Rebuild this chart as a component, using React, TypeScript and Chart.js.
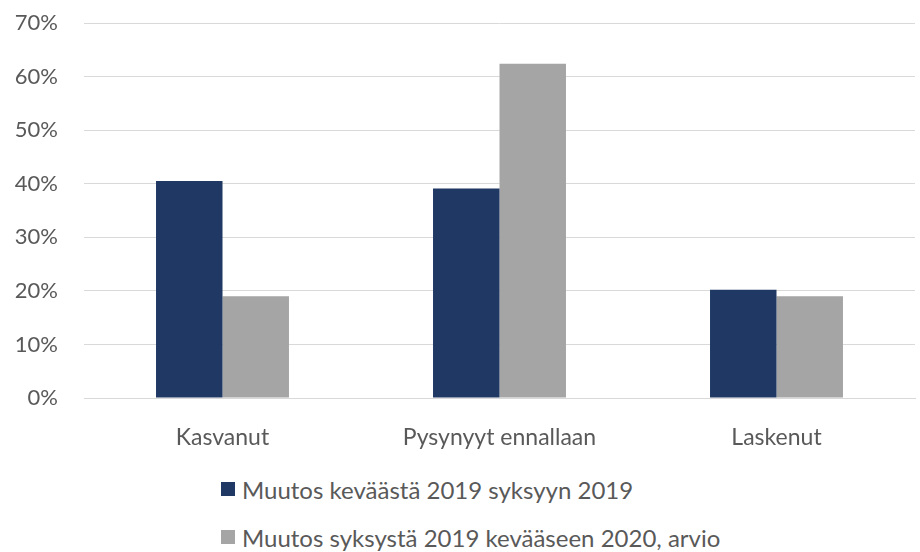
import React, { useEffect, useRef } from "react";
import { Chart, registerables } from "chart.js";

Chart.register(...registerables);

const categories = ["Kasvanut", "Pysynyyt ennallaan", "Laskenut"];
const seriesNames = [
  "Muutos keväästä 2019 syksyyn 2019",
  "Muutos syksystä 2019 kevääseen 2020, arvio",
];
const spring2019ToAutumn2019 = [40.5, 39.1, 20.2];
const autumn2019ToSpring2020 = [19.0, 62.4, 19.0];
const yTicks = [0, 10, 20, 30, 40, 50, 60, 70];
const colors = ["#1F3864", "#A5A5A5"];

const FONT = "Lato, 'Open Sans', sans-serif";
const TEXT = "#595959";

export default function App() {
  const ref = useRef<HTMLCanvasElement | null>(null);

  useEffect(() => {
    if (!ref.current) return;
    const chart = new Chart(ref.current, {
      type: "bar",
      data: {
        labels: categories,
        datasets: [
          {
            label: seriesNames[0],
            data: spring2019ToAutumn2019,
            backgroundColor: colors[0],
            categoryPercentage: 0.48,
            barPercentage: 1,
          },
          {
            label: seriesNames[1],
            data: autumn2019ToSpring2020,
            backgroundColor: colors[1],
            categoryPercentage: 0.48,
            barPercentage: 1,
          },
        ],
      },
      options: {
        animation: false,
        responsive: false,
        maintainAspectRatio: false,
        layout: { padding: { top: 23, right: 5, left: 0, bottom: 0 } },
        plugins: {
          legend: { display: false },
          tooltip: { enabled: false },
        },
        scales: {
          x: {
            grid: { display: false },
            border: { color: "#D9D9D9", width: 1 },
            ticks: {
              color: TEXT,
              font: { family: FONT, size: 23 },
              padding: 18,
            },
            afterFit: (s: any) => {
              s.height = 62;
              s.paddingLeft = 0;
              s.paddingRight = 0;
            },
          },
          y: {
            min: 0,
            max: 70,
            afterBuildTicks: (s: any) => {
              s.ticks = yTicks.map((v) => ({ value: v }));
            },
            grid: { color: "#D9D9D9", lineWidth: 1, drawTicks: false },
            border: { display: false },
            ticks: {
              color: TEXT,
              font: { family: FONT, size: 22 },
              padding: 26,
              callback: (v: any) => `${v}%`,
            },
            afterFit: (s: any) => {
              s.width = 84;
              s.paddingTop = 0;
              s.paddingBottom = 0;
            },
          },
        },
      },
    });
    return () => chart.destroy();
  }, []);

  return (
    <div
      style={{
        position: "absolute",
        left: 0,
        top: 0,
        width: 920,
        height: 552,
        background: "#fff",
        fontFamily: FONT,
      }}
    >
      <canvas ref={ref} width={920} height={460} style={{ display: "block" }} />
      {seriesNames.map((name, i) => (
        <div
          key={name}
          style={{
            position: "absolute",
            left: 221,
            top: 474 + i * 48,
            height: 30,
            display: "flex",
            alignItems: "center",
            color: TEXT,
            fontSize: 24,
            whiteSpace: "nowrap",
          }}
        >
          <span
            style={{
              display: "inline-block",
              width: 14,
              height: 14,
              background: colors[i],
              marginRight: 7,
            }}
          />
          {name}
        </div>
      ))}
    </div>
  );
}
